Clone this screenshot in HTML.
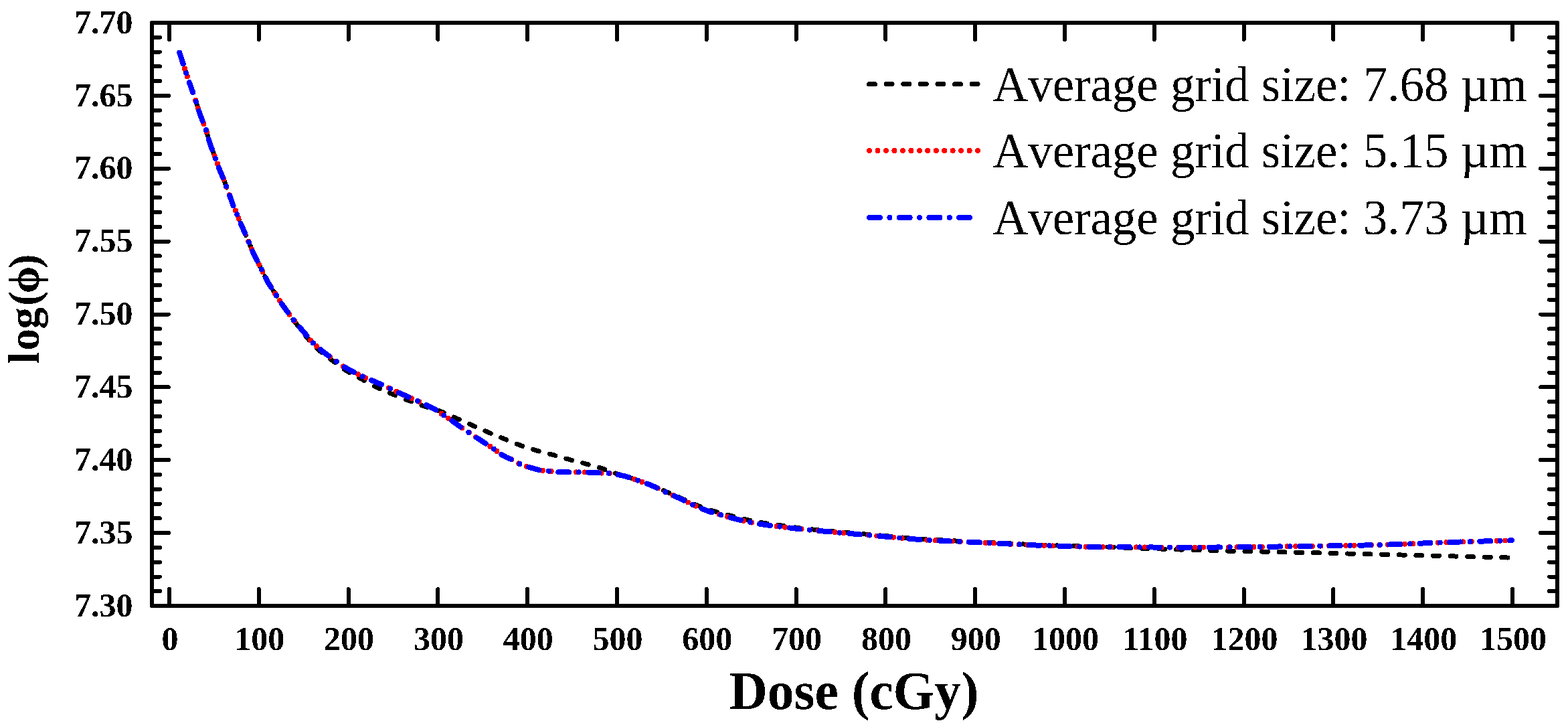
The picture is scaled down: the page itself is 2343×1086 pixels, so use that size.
<!DOCTYPE html><html><head><meta charset="utf-8"><title>Dose plot</title><style>html,body{margin:0;padding:0;background:#fff;overflow:hidden;}svg{display:block}</style></head><body>
<svg width="2343" height="1086" viewBox="0 0 2343 1086" shape-rendering="crispEdges">
<defs><filter id="bin" x="0" y="0" width="100%" height="100%" filterUnits="userSpaceOnUse" color-interpolation-filters="sRGB"><feComponentTransfer><feFuncA type="discrete" tableValues="0 1"/></feComponentTransfer></filter></defs>
<rect width="2343" height="1086" fill="#fff"/>
<g fill="none" stroke-linecap="round" stroke-linejoin="round">
<path d="M268.3,78.5 C268.9,80.5 270.5,85.6 272.0,90.3 C273.5,95.0 275.7,101.4 277.5,106.9 C279.3,112.4 281.3,118.6 283.0,123.5 C284.7,128.4 286.1,132.0 287.6,136.4 C289.2,140.8 290.6,145.0 292.3,150.2 C294.0,155.4 296.0,162.3 297.8,167.7 C299.6,173.1 301.5,177.5 303.3,182.4 C305.1,187.3 307.1,192.0 308.8,197.2 C310.5,202.4 311.8,208.6 313.5,213.8 C315.2,219.0 317.2,223.6 319.0,228.5 C320.8,233.4 322.8,238.7 324.5,243.3 C326.2,247.9 327.4,252.0 329.1,256.2 C330.8,260.4 333.1,264.5 334.7,268.4 C336.2,272.3 336.9,275.1 338.4,279.4 C339.9,283.7 342.2,289.6 343.9,294.2 C345.6,298.8 347.0,303.3 348.5,307.1 C350.0,310.9 351.6,313.5 353.1,317.2 C354.6,320.9 356.0,325.0 357.7,329.1 C359.4,333.2 361.4,337.7 363.3,342.0 C365.2,346.3 367.0,350.6 368.8,354.9 C370.6,359.2 372.5,363.5 374.3,367.8 C376.1,372.1 377.8,376.4 379.8,380.7 C381.8,385.0 384.2,389.3 386.3,393.6 C388.4,397.9 390.6,402.2 392.7,406.5 C394.8,410.8 396.8,415.1 399.1,419.3 C401.4,423.5 404.5,428.3 406.5,431.5 C408.5,434.7 408.9,435.2 411.0,438.4 C413.1,441.6 416.4,446.8 419.1,450.9 C421.8,454.9 424.5,458.8 427.3,462.7 C430.1,466.6 433.3,470.7 436.1,474.5 C438.9,478.3 440.4,480.5 444.2,485.5" stroke="#000" stroke-width="7" stroke-dasharray="9 16.6" stroke-dashoffset="0.00"/>
<path d="M444.2,485.5 C448.0,490.5 454.0,498.5 458.9,504.4 C463.8,510.2 467.7,515.2 473.6,520.6 C479.5,526.0 487.2,531.4 494.3,536.8 C501.4,542.2 509.0,548.2 516.4,553.0 C523.8,557.8 530.5,560.9 538.5,565.3 C546.5,569.7 556.4,575.4 564.1,579.2 C571.8,583.0 577.3,585.1 584.9,588.2 C592.5,591.3 601.7,594.9 609.7,598.0 C617.8,601.1 624.9,603.8 633.2,606.6 C641.5,609.4 651.4,611.9 659.4,614.9 C667.4,617.9 673.9,621.2 681.5,624.6 C689.1,628.0 697.2,631.5 705.0,635.0 C712.8,638.5 720.6,642.0 728.5,645.3 C736.4,648.6 744.1,651.7 752.1,655.0 C760.1,658.3 768.4,661.9 776.6,664.9 C784.8,667.9 793.3,670.5 801.5,672.9 C809.7,675.3 817.7,677.1 825.9,679.4 C834.1,681.7 842.5,684.2 850.8,686.5 C859.1,688.8 867.4,690.7 875.7,693.0 C884.0,695.3 895.1,698.3 900.6,700.1 C906.1,701.9 905.6,702.5 909.0,703.8 C912.4,705.0 916.5,706.2 921.2,707.6 C925.9,709.0 932.2,710.7 937.2,712.3 C942.2,713.9 945.1,714.9 951.3,717.0 C957.5,719.1 967.4,722.4 974.5,725.2 C981.6,728.0 987.1,730.8 993.7,733.7 C1000.3,736.6 1007.0,739.4 1014.0,742.5 C1021.0,745.6 1028.3,749.2 1035.4,752.2 C1042.5,755.2 1049.6,758.2 1056.7,760.6 C1063.8,763.0 1070.9,764.6 1078.0,766.6 C1085.1,768.6 1092.3,770.6 1099.4,772.4 C1106.5,774.2 1113.6,775.9 1120.7,777.4 C1127.8,778.9 1135.0,780.2 1142.1,781.4 C1149.2,782.6 1156.3,783.4 1163.4,784.4 C1170.5,785.4 1179.4,786.5 1184.7,787.3 C1190.0,788.1 1187.1,788.1 1195.4,789.0 C1203.7,789.9 1220.7,791.6 1234.4,792.9 C1248.1,794.2 1262.9,795.4 1277.7,796.7 C1292.5,798.0 1308.2,799.3 1323.2,800.6" stroke="#000" stroke-width="7" stroke-dasharray="9 16.6" stroke-dashoffset="5.32"/>
<path d="M1323.2,800.6 C1338.2,801.9 1352.8,803.5 1367.6,804.6 C1382.4,805.7 1398.5,806.5 1412.0,807.2 C1425.5,807.9 1433.8,808.3 1448.6,809.0 C1463.4,809.7 1484.9,810.7 1501.0,811.5 C1517.1,812.3 1530.6,813.1 1545.4,813.7 C1560.2,814.3 1575.0,814.8 1589.8,815.3 C1604.6,815.8 1622.5,816.3 1634.2,816.6 C1645.9,816.9 1651.3,816.9 1660.0,817.2 C1668.7,817.6 1673.9,818.2 1686.4,818.7 C1698.9,819.2 1718.3,819.5 1735.0,820.0 C1751.7,820.5 1769.2,821.3 1786.3,821.8 C1803.4,822.3 1820.4,822.8 1837.5,823.2 C1854.6,823.6 1871.6,823.9 1888.7,824.2 C1905.8,824.6 1922.7,824.9 1939.9,825.3 C1957.1,825.7 1974.7,826.0 1991.8,826.4 C2008.9,826.8 2025.7,827.4 2042.8,827.8 C2059.9,828.2 2077.2,828.6 2094.4,829.0 C2111.6,829.4 2128.9,829.9 2146.0,830.3 C2163.1,830.7 2179.8,831.2 2196.9,831.6 C2214.0,832.0 2238.0,832.6 2248.5,832.9 C2259.0,833.2 2258.1,833.2 2260.0,833.2" stroke="#000" stroke-width="7" stroke-dasharray="9 16.6" stroke-dashoffset="0.30"/>
<path d="M268.3,78.5 C268.9,80.5 270.5,85.6 272.0,90.3 C273.5,95.0 275.7,101.4 277.5,106.9 C279.3,112.4 281.3,118.6 283.0,123.5 C284.7,128.4 286.1,132.0 287.6,136.4 C289.2,140.8 290.6,145.0 292.3,150.2 C294.0,155.4 296.0,162.3 297.8,167.7 C299.6,173.1 301.5,177.5 303.3,182.4 C305.1,187.3 307.1,192.0 308.8,197.2 C310.5,202.4 311.8,208.6 313.5,213.8 C315.2,219.0 317.2,223.6 319.0,228.5 C320.8,233.4 322.8,238.7 324.5,243.3 C326.2,247.9 327.4,252.0 329.1,256.2 C330.8,260.4 333.1,264.5 334.7,268.4 C336.2,272.3 336.9,275.1 338.4,279.4 C339.9,283.7 342.2,289.6 343.9,294.2 C345.6,298.8 347.0,303.3 348.5,307.1 C350.0,310.9 351.6,313.5 353.1,317.2 C354.6,320.9 356.0,325.0 357.7,329.1 C359.4,333.2 361.4,337.7 363.3,342.0 C365.2,346.3 367.0,350.6 368.8,354.9 C370.6,359.2 372.5,363.5 374.3,367.8 C376.1,372.1 377.8,376.4 379.8,380.7 C381.8,385.0 384.2,389.3 386.3,393.6 C388.4,397.9 390.6,402.2 392.7,406.5 C394.8,410.8 396.8,415.1 399.1,419.3 C401.4,423.5 404.5,428.3 406.5,431.5 C408.5,434.7 408.9,435.2 411.0,438.4 C413.1,441.6 416.4,446.8 419.1,450.9 C421.8,454.9 424.5,458.8 427.3,462.7 C430.1,466.6 433.3,470.8 436.1,474.5 C438.9,478.2 441.1,481.1 444.2,484.8 C447.3,488.5 451.1,492.6 454.5,496.6 C457.9,500.7 461.1,505.2 464.8,509.1 C468.5,513.0 472.7,516.8 476.6,520.2 C480.5,523.6 484.5,526.8 488.4,529.7 C492.3,532.6 496.3,535.0 500.2,537.8 C504.1,540.6 507.5,543.9 511.9,546.7 C516.3,549.5 522.0,552.3 526.7,554.8 C531.4,557.2 535.5,559.3 539.9,561.4 C544.3,563.5 548.5,565.3 553.2,567.3 C557.9,569.3 563.1,571.4 567.9,573.5 C572.7,575.6 577.4,577.8 582.1,580.0 C586.8,582.2 591.5,584.6 595.9,586.6 C600.3,588.6 603.9,590.2 608.3,592.1 C612.7,594.0 617.6,596.2 622.2,598.3 C626.8,600.4 631.4,602.4 636.0,604.6 C640.6,606.8 645.4,609.0 649.8,611.5 C654.2,614.0 658.1,617.0 662.2,619.8 C666.3,622.5 670.5,625.1 674.6,628.0 C678.8,630.9 683.0,634.1 687.1,637.0 C691.2,639.9 695.4,642.5 699.5,645.3 C703.6,648.1 707.5,650.7 711.9,653.6 C716.3,656.5 721.3,659.7 725.7,662.6 C730.1,665.5 734.2,668.2 738.2,670.9 C742.2,673.6 746.3,677.0 749.4,679.0 C752.5,681.0 754.2,681.9 756.9,683.2 C759.6,684.5 762.3,685.3 765.4,686.9 C768.5,688.5 772.1,691.0 775.7,692.6 C779.3,694.2 783.2,695.5 787.0,696.8 C790.8,698.0 794.8,699.2 798.2,700.1 C801.6,701.0 803.8,701.8 807.6,702.4 C811.4,703.0 816.4,703.3 820.8,703.8 C825.2,704.3 828.6,705.0 833.9,705.3 C839.2,705.6 846.4,705.4 852.7,705.4 C859.0,705.4 865.2,705.3 871.5,705.4 C877.8,705.5 885.5,706.0 890.2,706.2 C894.9,706.4 896.3,706.6 899.6,706.7 C902.9,706.8 906.1,706.5 910.0,706.9 C913.9,707.3 918.6,708.1 923.1,709.0 C927.6,709.9 932.5,711.0 937.2,712.3 C941.9,713.6 945.1,714.8 951.3,717.0 C957.5,719.2 967.4,722.6 974.5,725.6 C981.6,728.6 987.1,731.7 993.7,734.7 C1000.3,737.7 1007.0,740.5 1014.0,743.7 C1021.0,746.9 1028.3,750.7 1035.4,753.9 C1042.5,757.1 1049.6,760.4 1056.7,763.0 C1063.8,765.6 1070.9,767.4 1078.0,769.4 C1085.1,771.4 1092.3,773.4 1099.4,775.2 C1106.5,777.0 1113.6,778.6 1120.7,780.0 C1127.8,781.4 1135.0,782.7 1142.1,783.8 C1149.2,784.9 1156.3,785.5 1163.4,786.4 C1170.5,787.3 1179.4,788.5 1184.7,789.1 C1190.0,789.7 1187.1,789.4 1195.4,790.2 C1203.7,791.0 1220.7,792.6 1234.4,793.9 C1248.1,795.1 1262.9,796.4 1277.7,797.7 C1292.5,799.0 1308.2,800.3 1323.2,801.6 C1338.2,802.9 1352.8,804.4 1367.6,805.5 C1382.4,806.6 1398.5,807.3 1412.0,808.0 C1425.5,808.7 1433.8,809.0 1448.6,809.7 C1463.4,810.4 1484.9,811.4 1501.0,812.2 C1517.1,813.0 1530.6,813.8 1545.4,814.4 C1560.2,815.0 1575.0,815.5 1589.8,815.9 C1604.6,816.3 1618.5,816.8 1634.2,817.0 C1649.9,817.2 1666.5,817.2 1684.1,817.3 C1701.7,817.4 1720.7,817.5 1740.0,817.6 C1759.3,817.7 1778.3,817.7 1800.0,817.6 C1821.7,817.5 1849.2,817.3 1870.0,817.1 C1890.8,816.9 1907.6,816.5 1924.6,816.3 C1941.6,816.0 1953.0,815.9 1972.0,815.6 C1991.0,815.3 2020.2,814.9 2038.8,814.5 C2057.4,814.1 2068.8,813.7 2083.8,813.2 C2098.8,812.7 2114.0,812.0 2128.8,811.4 C2143.6,810.8 2157.6,810.3 2172.4,809.8 C2187.2,809.3 2203.0,808.9 2217.4,808.5 C2231.8,808.1 2252.1,807.4 2259.0,807.2" stroke="#f00" stroke-width="8" stroke-dasharray="0 12.526" stroke-dashoffset="0.00"/>
<circle cx="268.3" cy="78.5" r="4" fill="#00f" stroke="none"/>
<path d="M268.3,78.5 C268.9,80.5 270.5,85.6 272.0,90.3 C273.5,95.0 275.7,101.4 277.5,106.9 C279.3,112.4 281.3,118.6 283.0,123.5 C284.7,128.4 286.1,132.0 287.6,136.4 C289.2,140.8 290.6,145.0 292.3,150.2 C294.0,155.4 296.0,162.3 297.8,167.7 C299.6,173.1 301.5,177.5 303.3,182.4 C305.1,187.3 307.1,192.0 308.8,197.2 C310.5,202.4 311.8,208.6 313.5,213.8 C315.2,219.0 317.2,223.6 319.0,228.5 C320.8,233.4 322.8,238.7 324.5,243.3 C326.2,247.9 327.4,252.0 329.1,256.2 C330.8,260.4 333.1,264.5 334.7,268.4 C336.2,272.3 336.9,275.1 338.4,279.4 C339.9,283.7 342.2,289.6 343.9,294.2 C345.6,298.8 347.0,303.3 348.5,307.1 C350.0,310.9 351.6,313.5 353.1,317.2 C354.6,320.9 356.0,325.0 357.7,329.1 C359.4,333.2 361.4,337.7 363.3,342.0 C365.2,346.3 367.0,350.6 368.8,354.9 C370.6,359.2 372.5,363.5 374.3,367.8 C376.1,372.1 377.8,376.4 379.8,380.7 C381.8,385.0 384.2,389.3 386.3,393.6 C388.4,397.9 390.6,402.2 392.7,406.5 C394.8,410.8 396.8,415.1 399.1,419.3 C401.4,423.5 404.5,428.3 406.5,431.5 C408.5,434.7 408.9,435.2 411.0,438.4 C413.1,441.6 416.4,446.8 419.1,450.9 C421.8,454.9 424.5,458.8 427.3,462.7 C430.1,466.6 433.3,470.8 436.1,474.5 C438.9,478.2 441.1,481.1 444.2,484.8 C447.3,488.5 451.1,492.6 454.5,496.6 C457.9,500.7 461.1,505.2 464.8,509.1 C468.5,513.0 472.7,516.8 476.6,520.2 C480.5,523.6 484.5,526.8 488.4,529.7 C492.3,532.6 496.3,535.0 500.2,537.8 C504.1,540.6 507.5,543.9 511.9,546.7 C516.3,549.5 522.0,552.3 526.7,554.8 C531.4,557.2 535.5,559.3 539.9,561.4 C544.3,563.5 548.5,565.3 553.2,567.3 C557.9,569.3 563.1,571.4 567.9,573.5 C572.7,575.6 577.4,577.8 582.1,580.0 C586.8,582.2 591.5,584.6 595.9,586.6 C600.3,588.6 603.9,590.2 608.3,592.1 C612.7,594.0 617.6,596.2 622.2,598.3 C626.8,600.4 631.4,602.4 636.0,604.6 C640.6,606.8 645.4,609.0 649.8,611.5 C654.2,614.0 658.1,617.0 662.2,619.8 C666.3,622.5 670.5,625.1 674.6,628.0 C678.8,630.9 683.0,634.1 687.1,637.0 C691.2,639.9 695.4,642.5 699.5,645.3 C703.6,648.1 707.5,650.7 711.9,653.6 C716.3,656.5 721.3,659.7 725.7,662.6 C730.1,665.5 734.2,668.2 738.2,670.9 C742.2,673.6 746.3,677.0 749.4,679.0 C752.5,681.0 754.2,681.9 756.9,683.2 C759.6,684.5 762.3,685.3 765.4,686.9 C768.5,688.5 772.1,691.0 775.7,692.6 C779.3,694.2 783.2,695.5 787.0,696.8 C790.8,698.0 794.8,699.2 798.2,700.1 C801.6,701.0 803.8,701.8 807.6,702.4 C811.4,703.0 816.4,703.3 820.8,703.8 C825.2,704.3 828.6,705.0 833.9,705.3 C839.2,705.6 846.4,705.4 852.7,705.4 C859.0,705.4 865.2,705.3 871.5,705.4 C877.8,705.5 885.5,706.0 890.2,706.2 C894.9,706.4 896.3,706.6 899.6,706.7 C902.9,706.8 906.1,706.5 910.0,706.9 C913.9,707.3 918.6,708.1 923.1,709.0 C927.6,709.9 932.5,711.0 937.2,712.3 C941.9,713.6 945.1,714.8 951.3,717.0 C957.5,719.2 967.4,722.6 974.5,725.6 C981.6,728.6 987.1,731.7 993.7,734.7 C1000.3,737.7 1007.0,740.5 1014.0,743.7 C1021.0,746.9 1028.3,750.7 1035.4,753.9 C1042.5,757.1 1049.6,760.4 1056.7,763.0 C1063.8,765.6 1070.9,767.4 1078.0,769.4 C1085.1,771.4 1092.3,773.4 1099.4,775.2 C1106.5,777.0 1113.6,778.6 1120.7,780.0 C1127.8,781.4 1135.0,782.7 1142.1,783.8 C1149.2,784.9 1156.3,785.5 1163.4,786.4 C1170.5,787.3 1179.4,788.5 1184.7,789.1 C1190.0,789.7 1187.1,789.4 1195.4,790.2 C1203.7,791.0 1220.7,792.6 1234.4,793.9 C1248.1,795.1 1262.9,796.4 1277.7,797.7 C1292.5,799.0 1308.2,800.3 1323.2,801.6 C1338.2,802.9 1352.8,804.4 1367.6,805.5 C1382.4,806.6 1398.5,807.3 1412.0,808.0 C1425.5,808.7 1433.8,809.0 1448.6,809.7 C1463.4,810.4 1484.9,811.4 1501.0,812.2 C1517.1,813.0 1530.6,813.8 1545.4,814.4 C1560.2,815.0 1575.0,815.5 1589.8,815.9 C1604.6,816.3 1618.5,816.8 1634.2,817.0 C1649.9,817.2 1666.5,817.2 1684.1,817.3 C1701.7,817.4 1720.7,817.5 1740.0,817.6 C1759.3,817.7 1778.3,817.7 1800.0,817.6 C1821.7,817.5 1849.2,817.3 1870.0,817.1 C1890.8,816.9 1907.6,816.5 1924.6,816.3 C1941.6,816.0 1953.0,815.9 1972.0,815.6 C1991.0,815.3 2020.2,814.9 2038.8,814.5 C2057.4,814.1 2068.8,813.7 2083.8,813.2 C2098.8,812.7 2114.0,812.0 2128.8,811.4 C2143.6,810.8 2157.6,810.3 2172.4,809.8 C2187.2,809.3 2203.0,808.9 2217.4,808.5 C2231.8,808.1 2252.1,807.4 2259.0,807.2" stroke="#00f" stroke-width="8" stroke-dasharray="16.072 14.414 0 14.414" stroke-dashoffset="-2.00"/>
</g>
<path d="M253.0,905.0V880.0 M253.0,34.0V59.0 M386.8,905.0V880.0 M386.8,34.0V59.0 M520.6,905.0V880.0 M520.6,34.0V59.0 M654.4,905.0V880.0 M654.4,34.0V59.0 M788.2,905.0V880.0 M788.2,34.0V59.0 M922.0,905.0V880.0 M922.0,34.0V59.0 M1055.8,905.0V880.0 M1055.8,34.0V59.0 M1189.6,905.0V880.0 M1189.6,34.0V59.0 M1323.4,905.0V880.0 M1323.4,34.0V59.0 M1457.2,905.0V880.0 M1457.2,34.0V59.0 M1591.0,905.0V880.0 M1591.0,34.0V59.0 M1724.8,905.0V880.0 M1724.8,34.0V59.0 M1858.6,905.0V880.0 M1858.6,34.0V59.0 M1992.4,905.0V880.0 M1992.4,34.0V59.0 M2126.2,905.0V880.0 M2126.2,34.0V59.0 M2260.0,905.0V880.0 M2260.0,34.0V59.0 M227.0,34.0H252.0 M2327.0,34.0H2302.0 M227.0,55.8H239.0 M2327.0,55.8H2315.0 M227.0,77.5H239.0 M2327.0,77.5H2315.0 M227.0,99.3H239.0 M2327.0,99.3H2315.0 M227.0,121.1H239.0 M2327.0,121.1H2315.0 M227.0,142.9H252.0 M2327.0,142.9H2302.0 M227.0,164.7H239.0 M2327.0,164.7H2315.0 M227.0,186.4H239.0 M2327.0,186.4H2315.0 M227.0,208.2H239.0 M2327.0,208.2H2315.0 M227.0,230.0H239.0 M2327.0,230.0H2315.0 M227.0,251.8H252.0 M2327.0,251.8H2302.0 M227.0,273.5H239.0 M2327.0,273.5H2315.0 M227.0,295.3H239.0 M2327.0,295.3H2315.0 M227.0,317.1H239.0 M2327.0,317.1H2315.0 M227.0,338.9H239.0 M2327.0,338.9H2315.0 M227.0,360.6H252.0 M2327.0,360.6H2302.0 M227.0,382.4H239.0 M2327.0,382.4H2315.0 M227.0,404.2H239.0 M2327.0,404.2H2315.0 M227.0,425.9H239.0 M2327.0,425.9H2315.0 M227.0,447.7H239.0 M2327.0,447.7H2315.0 M227.0,469.5H252.0 M2327.0,469.5H2302.0 M227.0,491.3H239.0 M2327.0,491.3H2315.0 M227.0,513.0H239.0 M2327.0,513.0H2315.0 M227.0,534.8H239.0 M2327.0,534.8H2315.0 M227.0,556.6H239.0 M2327.0,556.6H2315.0 M227.0,578.4H252.0 M2327.0,578.4H2302.0 M227.0,600.1H239.0 M2327.0,600.1H2315.0 M227.0,621.9H239.0 M2327.0,621.9H2315.0 M227.0,643.7H239.0 M2327.0,643.7H2315.0 M227.0,665.5H239.0 M2327.0,665.5H2315.0 M227.0,687.2H252.0 M2327.0,687.2H2302.0 M227.0,709.0H239.0 M2327.0,709.0H2315.0 M227.0,730.8H239.0 M2327.0,730.8H2315.0 M227.0,752.6H239.0 M2327.0,752.6H2315.0 M227.0,774.4H239.0 M2327.0,774.4H2315.0 M227.0,796.1H252.0 M2327.0,796.1H2302.0 M227.0,817.9H239.0 M2327.0,817.9H2315.0 M227.0,839.7H239.0 M2327.0,839.7H2315.0 M227.0,861.5H239.0 M2327.0,861.5H2315.0 M227.0,883.2H239.0 M2327.0,883.2H2315.0 M227.0,905.0H252.0 M2327.0,905.0H2302.0" fill="none" stroke="#000" stroke-width="6" stroke-linecap="round"/>
<rect x="227.0" y="34.0" width="2100.0" height="871.0" fill="none" stroke="#000" stroke-width="6" stroke-linejoin="round"/>
<g filter="url(#bin)">
<g font-family="'Liberation Serif', 'Times New Roman', serif" font-weight="bold" font-size="50" fill="#000">
<text x="198.5" y="49.6" text-anchor="end">7.70</text>
<text x="198.5" y="158.5" text-anchor="end">7.65</text>
<text x="198.5" y="267.3" text-anchor="end">7.60</text>
<text x="198.5" y="376.2" text-anchor="end">7.55</text>
<text x="198.5" y="485.1" text-anchor="end">7.50</text>
<text x="198.5" y="594.0" text-anchor="end">7.45</text>
<text x="198.5" y="702.8" text-anchor="end">7.40</text>
<text x="198.5" y="811.7" text-anchor="end">7.35</text>
<text x="198.5" y="920.6" text-anchor="end">7.30</text>
<text x="254.0" y="970.5" text-anchor="middle">0</text>
<text x="387.8" y="970.5" text-anchor="middle">100</text>
<text x="521.6" y="970.5" text-anchor="middle">200</text>
<text x="655.4" y="970.5" text-anchor="middle">300</text>
<text x="789.2" y="970.5" text-anchor="middle">400</text>
<text x="923.0" y="970.5" text-anchor="middle">500</text>
<text x="1056.8" y="970.5" text-anchor="middle">600</text>
<text x="1190.6" y="970.5" text-anchor="middle">700</text>
<text x="1324.4" y="970.5" text-anchor="middle">800</text>
<text x="1458.2" y="970.5" text-anchor="middle">900</text>
<text x="1592.0" y="970.5" text-anchor="middle">1000</text>
<text x="1725.8" y="970.5" text-anchor="middle">1100</text>
<text x="1859.6" y="970.5" text-anchor="middle">1200</text>
<text x="1993.4" y="970.5" text-anchor="middle">1300</text>
<text x="2127.2" y="970.5" text-anchor="middle">1400</text>
<text x="2261.0" y="970.5" text-anchor="middle">1500</text>
</g>
<text x="1276" y="1059" text-anchor="middle" font-family="'Liberation Serif', serif" font-weight="bold" font-size="79.5">Dose (cGy)</text>
<text transform="translate(58,543.5) rotate(-90)" font-family="'Liberation Serif', serif" font-weight="bold" font-size="65">l<tspan dx="1.9">o</tspan><tspan dx="-0.45">g</tspan><tspan dx="2.2">(</tspan><tspan dx="-3.1">&#x3d5;</tspan><tspan dx="-3.7">)</tspan></text>
<g font-family="'Liberation Serif', 'Times New Roman', serif" font-size="73" fill="#000" style="font-kerning:none">
<text x="1483.5" y="151">Average grid size: 7.68 µm</text>
<text x="1483.5" y="250">Average grid size: 5.15 µm</text>
<text x="1483.5" y="350">Average grid size: 3.73 µm</text>
</g>
</g>
<g fill="none" stroke-linecap="round">
<path d="M1298.5,125.5H1462" stroke="#000" stroke-width="7" stroke-dasharray="9 16.6"/>
<path d="M1299,225H1462" stroke="#f00" stroke-width="8" stroke-dasharray="0 12.47"/>
<path d="M1299,325H1462" stroke="#00f" stroke-width="8" stroke-dasharray="16 14.35 0 14.35"/>
</g>
</svg></body></html>
